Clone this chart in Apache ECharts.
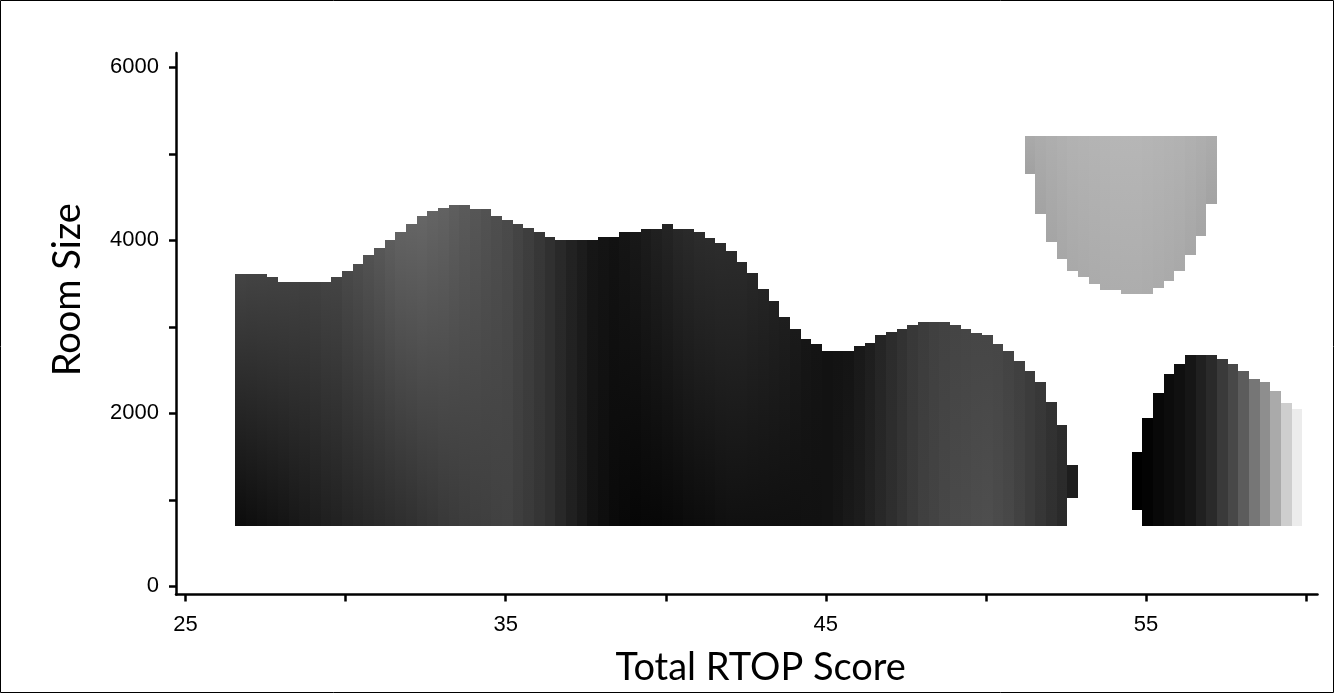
<!DOCTYPE html>
<html>
<head>
<meta charset="utf-8">
<script src="https://cdn.jsdelivr.net/npm/echarts@6/dist/echarts.min.js"></script>
<style>
  html, body { margin: 0; padding: 0; background: #fff; }
  #chart { width: 1334px; height: 693px; }
</style>
</head>
<body>
<div id="chart"></div>
<script>
// ---- data ----
// x bins (Total RTOP Score) are 1/3 point wide, first bin starts at 26.55
const xBinStart = 26.55;
const xBinWidth = 1 / 3;
const roomBase = 700;               // lower edge of the filled region (Room Size)

// main region: bins 0..77, upper edge (Room Size)
const mainTop = [
  3610, 3610, 3610, 3570, 3520, 3520, 3520, 3520, 3520, 3570,
  3640, 3730, 3825, 3915, 4000, 4090, 4185, 4275, 4340, 4370,
  4405, 4405, 4365, 4365, 4280, 4230, 4185, 4140, 4090, 4035,
  4000, 4000, 4000, 4000, 4035, 4035, 4090, 4090, 4135, 4135,
  4190, 4135, 4135, 4090, 4030, 3965, 3875, 3745, 3620, 3440,
  3300, 3115, 2970, 2855, 2805, 2725, 2725, 2725, 2775, 2815,
  2900, 2940, 2970, 3020, 3055, 3055, 3055, 3015, 2970, 2930,
  2900, 2805, 2720, 2610, 2485, 2365, 2130, 1860
];
// grey level (0-255) at the top and at the bottom of each main bin
const mainGrayTop = [
  68, 67, 67, 66, 65, 65, 64, 65, 67, 68,
  73, 77, 82, 87, 93, 98, 100, 102, 100, 98,
  94, 90, 86, 82, 78, 74, 68, 62, 55, 48,
  41, 34, 28, 22, 20, 18, 21, 24, 28, 32,
  36, 40, 42, 44, 44, 44, 43, 42, 39, 36,
  33, 30, 26, 22, 20, 18, 19, 20, 25, 30,
  37, 44, 50, 56, 60, 64, 66, 68, 69, 70,
  70, 70, 67, 64, 60, 56, 50, 44
];
const mainGrayBottom = [
  12, 14, 16, 18, 20, 23, 25, 28, 31, 33,
  36, 38, 40, 42, 44, 46, 48, 51, 53, 56,
  58, 60, 62, 63, 65, 66, 62, 58, 53, 48,
  40, 32, 25, 18, 14, 10, 8, 6, 7, 7,
  8, 9, 11, 12, 13, 15, 16, 16, 16, 16,
  16, 16, 16, 17, 17, 18, 21, 25, 28, 34,
  40, 46, 52, 58, 64, 67, 71, 74, 75, 77,
  78, 75, 72, 66, 60, 54, 48, 42
];

// isolated short cells: [bin, low, high, grey]
const stubCells = [
  [78, 1020, 1405, 30],
  [84, 880, 1550, 0]
];

// right region: bins 85..99
const rightFirstBin = 85;
const rightTop = [1945, 2230, 2455, 2575, 2670, 2670, 2670, 2630, 2575, 2485, 2395, 2365, 2255, 2120, 2045];
const rightGray = [3, 8, 12, 16, 22, 32, 42, 58, 72, 92, 118, 142, 170, 206, 236];

// upper light region: bins 74..91, top edge at 5200
const upperFirstBin = 74;
const upperTopValue = 5200;
const upperBottom = [4770, 4300, 3980, 3780, 3650, 3575, 3490, 3430, 3430, 3380, 3380, 3380, 3445, 3530, 3650, 3835, 4045, 4415];
const upperGray = [168, 170, 172, 174, 176, 177, 178, 179, 180, 180, 180, 179, 178, 177, 176, 174, 172, 170];

// axes
const xTickValues = [25, 30, 35, 40, 45, 50, 55, 60];
const xLabelValues = [25, 35, 45, 55];
const yTickValues = [0, 1000, 2000, 3000, 4000, 5000, 6000];
const yLabelValues = [0, 2000, 4000, 6000];

// ---- build cells ----
function binEdge(k) { return xBinStart + k * xBinWidth; }
const cells = [];
mainTop.forEach(function (t, i) {
  cells.push([binEdge(i), binEdge(i + 1), roomBase, t, mainGrayBottom[i], mainGrayTop[i]]);
});
stubCells.forEach(function (c) {
  cells.push([binEdge(c[0]), binEdge(c[0] + 1), c[1], c[2], c[3], c[3]]);
});
rightTop.forEach(function (t, i) {
  const k = rightFirstBin + i;
  cells.push([binEdge(k), binEdge(k + 1), roomBase, t, rightGray[i], rightGray[i]]);
});
upperBottom.forEach(function (b, i) {
  const k = upperFirstBin + i;
  cells.push([binEdge(k), binEdge(k + 1), b, upperTopValue, upperGray[i] - 7, upperGray[i] + 2]);
});

function grey(g) { g = Math.max(0, Math.min(255, Math.round(g))); return 'rgb(' + g + ',' + g + ',' + g + ')'; }

function renderCell(params, api) {
  const p0 = api.coord([api.value(0), api.value(3)]);
  const p1 = api.coord([api.value(1), api.value(2)]);
  const x0 = Math.round(p0[0]), x1 = Math.round(p1[0]);
  const y0 = Math.round(p0[1]), y1 = Math.round(p1[1]);
  return {
    type: 'rect',
    shape: { x: x0, y: y0, width: x1 - x0, height: y1 - y0 },
    style: {
      fill: {
        type: 'linear', x: 0, y: 0, x2: 0, y2: 1,
        colorStops: [
          { offset: 0, color: grey(api.value(5)) },
          { offset: 1, color: grey(api.value(4)) }
        ]
      }
    }
  };
}

function plain(v) { return String(v); }

const chart = echarts.init(document.getElementById('chart'), null, { renderer: 'canvas' });
chart.setOption({
  animation: false,
  backgroundColor: '#ffffff',
  grid: { left: 176, right: 16.5, top: 53, bottom: 98.5, outerBoundsMode: 'none', containLabel: false },
  xAxis: {
    type: 'value', min: 24.7, max: 60.36,
    name: 'Total RTOP Score', nameLocation: 'middle', nameGap: 54,
    nameTextStyle: { fontFamily: 'Lato', fontSize: 38, color: '#000', padding: [0, 0, 0, 28] },
    axisLine: { show: true, onZero: false, lineStyle: { color: '#000', width: 2.5 } },
    axisTick: { show: true, inside: false, length: 7, customValues: xTickValues, lineStyle: { color: '#000', width: 2.5 } },
    axisLabel: { customValues: xLabelValues, formatter: plain, fontFamily: 'Liberation Sans', fontSize: 22, color: '#000', margin: 19 },
    splitLine: { show: false }
  },
  yAxis: {
    type: 'value', min: -95, max: 6165,
    name: 'Room Size', nameLocation: 'middle', nameGap: 89,
    nameTextStyle: { fontFamily: 'Lato', fontSize: 38, color: '#000', padding: [0, 0, 0, 68] },
    axisLine: { show: true, onZero: false, lineStyle: { color: '#000', width: 2.5 } },
    axisTick: { show: true, inside: false, length: 7, customValues: yTickValues, lineStyle: { color: '#000', width: 2.5 } },
    axisLabel: { customValues: yLabelValues, formatter: plain, fontFamily: 'Liberation Sans', fontSize: 22, color: '#000', margin: 17 },
    splitLine: { show: false }
  },
  graphic: [{
    type: 'rect', silent: true, z: 100,
    shape: { x: 0.5, y: 0.5, width: 1333, height: 692 },
    style: { fill: null, stroke: '#000', lineWidth: 1 }
  }],
  series: [{
    type: 'custom',
    renderItem: renderCell,
    encode: { x: [0, 1], y: [2, 3] },
    data: cells,
    clip: true
  }]
});
</script>
</body>
</html>
